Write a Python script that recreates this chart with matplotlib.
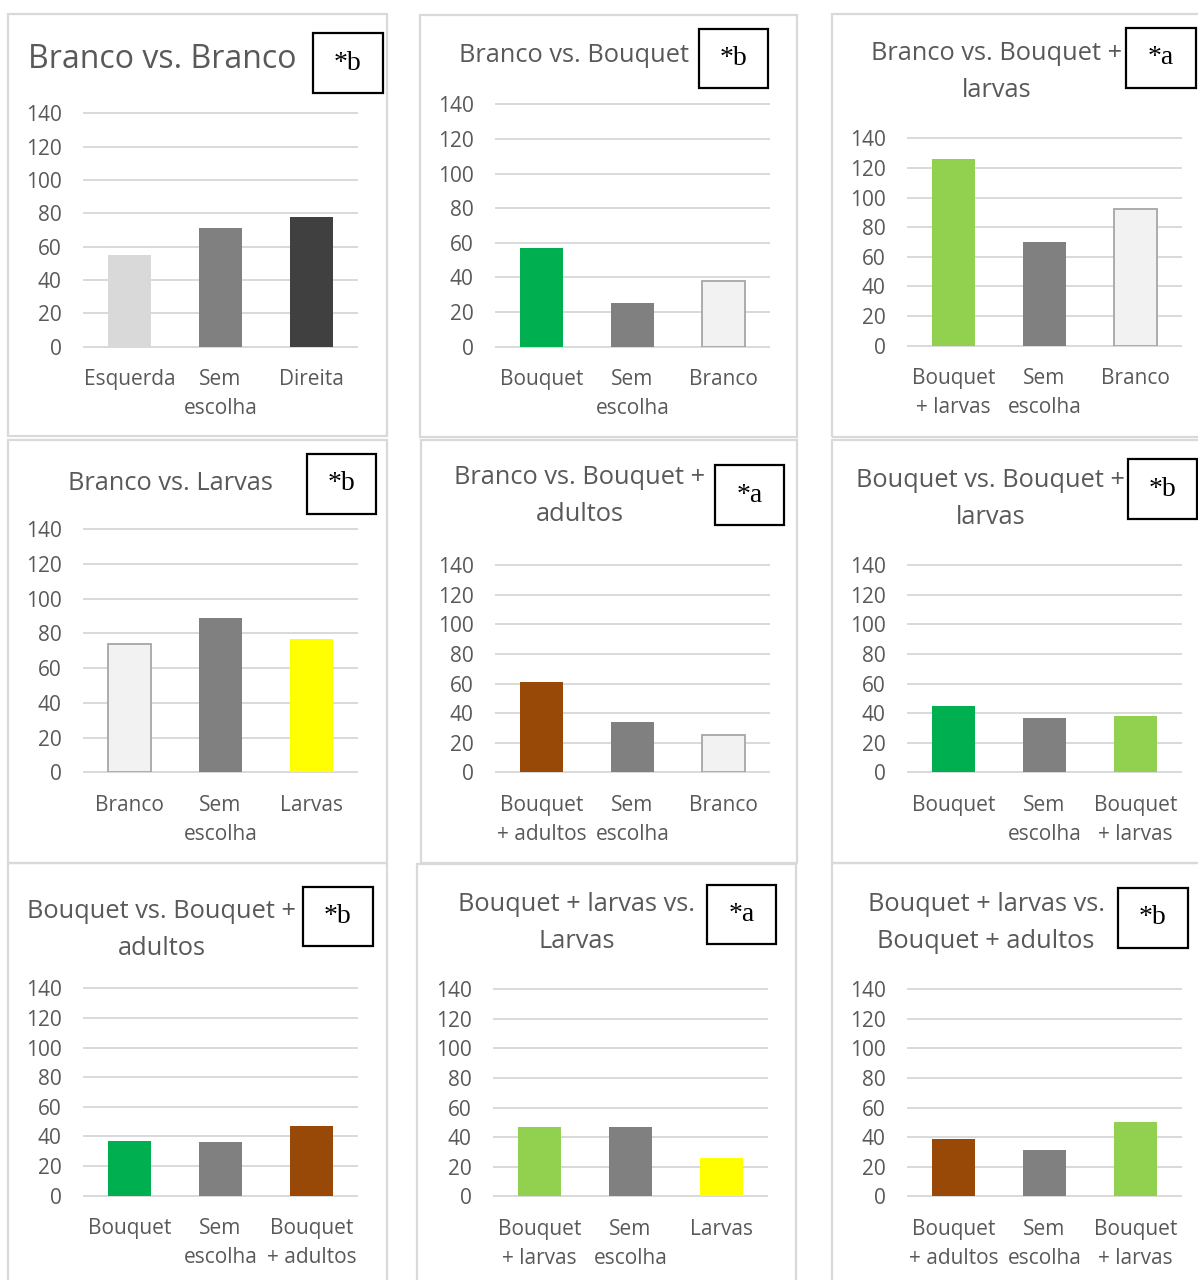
import matplotlib
matplotlib.use("Agg")
import matplotlib.pyplot as plt
from matplotlib.patches import Rectangle

W, H = 1198, 1280
DPI = 100

titles = [
    "Branco vs. Branco",
    "Branco vs. Bouquet",
    "Branco vs. Bouquet +\nlarvas",
    "Branco vs. Larvas",
    "Branco vs. Bouquet +\nadultos",
    "Bouquet vs. Bouquet +\nlarvas",
    "Bouquet vs. Bouquet +\nadultos",
    "Bouquet + larvas vs.\nLarvas",
    "Bouquet + larvas vs.\nBouquet + adultos",
]
letters = ["*b", "*b", "*a", "*b", "*a", "*b", "*b", "*a", "*b"]

categories = [
    ["Esquerda", "Sem\nescolha", "Direita"],
    ["Bouquet", "Sem\nescolha", "Branco"],
    ["Bouquet\n+ larvas", "Sem\nescolha", "Branco"],
    ["Branco", "Sem\nescolha", "Larvas"],
    ["Bouquet\n+ adultos", "Sem\nescolha", "Branco"],
    ["Bouquet", "Sem\nescolha", "Bouquet\n+ larvas"],
    ["Bouquet", "Sem\nescolha", "Bouquet\n+ adultos"],
    ["Bouquet\n+ larvas", "Sem\nescolha", "Larvas"],
    ["Bouquet\n+ adultos", "Sem\nescolha", "Bouquet\n+ larvas"],
]

values = [
    [55, 71, 78],
    [57, 25, 38],
    [126, 70, 92],
    [74, 89, 77],
    [61, 34, 25],
    [45, 37, 38],
    [37, 36, 47],
    [47, 47, 26],
    [39, 31, 50],
]

GREEN = "#00B050"
LGREEN = "#92D050"
GREY = "#808080"
DGREY = "#404040"
LGREY = "#D9D9D9"
WHITE = "#F2F2F2"
YELLOW = "#FFFF00"
BROWN = "#984807"

bar_colors = [
    [LGREY, GREY, DGREY],
    [GREEN, GREY, WHITE],
    [LGREEN, GREY, WHITE],
    [WHITE, GREY, YELLOW],
    [BROWN, GREY, WHITE],
    [GREEN, GREY, LGREEN],
    [GREEN, GREY, BROWN],
    [LGREEN, GREY, YELLOW],
    [BROWN, GREY, LGREEN],
]

yticks = [0, 20, 40, 60, 80, 100, 120, 140]

# layout (pixels): panel border, plot area, title center, annotation box
panels = [(8, 14, 387, 436), (420, 15, 797, 437), (832, 14, 1210, 437),
          (8, 440, 387, 863), (421, 440, 797, 863), (832, 440, 1210, 863),
          (8, 863, 387, 1290), (417, 864, 796, 1290), (832, 863, 1210, 1290)]
plots = [(84, 357, 113.3, 346.7), (496, 769, 104.3, 346.7), (908, 1181, 138.3, 345.7),
         (84, 357, 529.3, 772.3), (496, 769, 565.3, 772.3), (908, 1181, 565.3, 772.3),
         (84, 357, 988.3, 1195.7), (494, 767, 989.3, 1196.3), (908, 1181, 989.3, 1196.3)]
title_pos = [(162, 60), (574, 55), (997, 72), (170, 483), (580, 496), (991, 499),
             (162, 930), (577, 923), (986, 923)]
title_size = [23, 18.3, 18.3, 18.3, 18.3, 18.3, 18.3, 18.3, 18.3]
boxes = [(313, 33, 383, 93), (699, 29, 768, 88), (1126, 28, 1196, 88),
         (307, 454, 376, 514), (715, 465, 784, 525), (1128, 459, 1197, 519),
         (303, 887, 373, 946), (707, 885, 776, 944), (1118, 888, 1188, 948)]

TEXT = "#595959"
plt.rcParams["font.family"] = ["Open Sans", "DejaVu Sans"]

fig = plt.figure(figsize=(W / DPI, H / DPI), dpi=DPI)
fig.patch.set_facecolor("white")


def fx(x):
    return x / W


def fy(y):
    return 1 - y / H


for i in range(9):
    # panel border
    x0, y0, x1, y1 = panels[i]
    fig.patches.append(Rectangle((fx(x0), fy(y1)), fx(x1 - x0), (y1 - y0) / H,
                                 transform=fig.transFigure, facecolor="none",
                                 edgecolor=LGREY, linewidth=1.6, zorder=-1))

for i in range(9):
    px0, px1, py140, py0 = plots[i]
    ax = fig.add_axes([fx(px0), fy(py0), (px1 - px0) / W, (py0 - py140) / H])
    ax.set_facecolor("none")
    ax.set_xlim(-0.5, 2.5)
    ax.set_ylim(0, 140)
    for t in yticks:
        ax.axhline(t, color=LGREY, linewidth=1.4, zorder=1, clip_on=False)
    xs = range(len(values[i]))
    for x, v, c in zip(xs, values[i], bar_colors[i]):
        if c == WHITE:
            ax.bar(x, v, width=0.48, color=c, edgecolor="#A6A6A6", linewidth=1.3, zorder=2)
        else:
            ax.bar(x, v, width=0.48, color=c, linewidth=0, zorder=2)
    for s in ax.spines.values():
        s.set_visible(False)
    ax.set_yticks(yticks)
    ax.set_yticklabels([str(t) for t in yticks], fontsize=15, color=TEXT)
    ax.set_xticks(list(xs))
    ax.set_xticklabels(categories[i], fontsize=15, color=TEXT, linespacing=1.52)
    ax.tick_params(axis="y", length=0, pad=16)
    ax.tick_params(axis="x", length=0, pad=16)

    # title
    tx, ty = title_pos[i]
    fig.text(fx(tx), fy(ty), titles[i], ha="center", va="center", fontsize=title_size[i],
             color=TEXT, linespacing=1.65)

    # annotation box
    bx0, by0, bx1, by1 = boxes[i]
    fig.patches.append(Rectangle((fx(bx0), fy(by1)), fx(bx1 - bx0), (by1 - by0) / H,
                                 transform=fig.transFigure, facecolor="white",
                                 edgecolor="black", linewidth=1.6, zorder=5))
    fig.text(fx((bx0 + bx1) / 2), fy((by0 + by1) / 2), letters[i], ha="center", va="center",
             fontsize=20, family=["Liberation Serif", "DejaVu Serif"], color="black", zorder=6)

fig.savefig("out.png", dpi=DPI, facecolor="white")
